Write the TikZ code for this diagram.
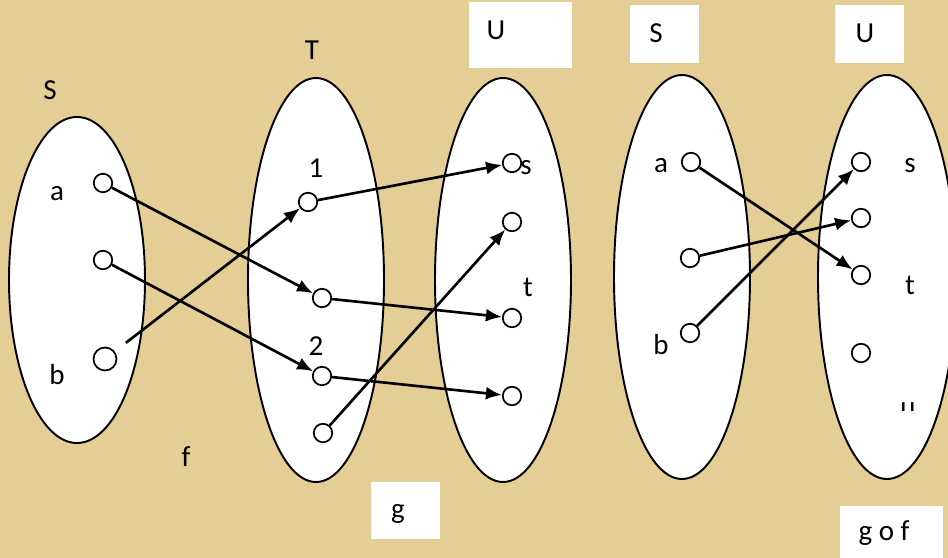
\documentclass[tikz,border=0pt]{standalone}
\usepackage{fontspec}
\setmainfont{Carlito}
\usetikzlibrary{arrows.meta}
\definecolor{parch}{RGB}{229,205,150}
\tikzset{
  setell/.style={draw=black,fill=white,line width=1.1pt},
  pt/.style={circle,draw=black,fill=white,line width=1pt,minimum size=0.37cm,inner sep=0pt},
  lab/.style={font=\fontsize{16.5}{19}\selectfont,inner sep=0pt},
  wbox/.style={fill=white,draw=none},
  arr/.style={line width=1.5pt,-{Latex[length=0.32cm,width=0.26cm]}}
}
\begin{document}
\begin{tikzpicture}[x=0.02cm,y=-0.02cm]
\useasboundingbox (0,0) rectangle (948,558);
\fill[parch] (0,0) rectangle (948,558);
% white label boxes
\fill[wbox] (469,2) rectangle (572,68);
\fill[wbox] (630,5) rectangle (699,63);
\fill[wbox] (835,5) rectangle (904,63);
\fill[wbox] (371,482) rectangle (440,539);
\fill[wbox] (840,506) rectangle (943,558);
% sets
\draw[setell] (77,280) ellipse [x radius=68, y radius=163];
\draw[setell] (316,280) ellipse [x radius=68, y radius=202];
\draw[setell] (503,280) ellipse [x radius=68, y radius=202];
\draw[setell] (682,277) ellipse [x radius=68, y radius=202];
\draw[setell] (887,277) ellipse [x radius=69, y radius=202];
% labels
\node[lab] (lS) at (50,90) {S};
\node[lab] (lT) at (312,50) {T};
\node[lab] (lU) at (496,30) {U};
\node[lab] (lf) at (186,457) {f};
\node[lab] (lg) at (398,514) {g};
\node[lab] (lS2) at (656,33) {S};
\node[lab] (lU2) at (865,33) {U};
\node[lab] (lgof) at (884,533) {g o f};
% S left
\node[pt] (sa) at (103,183) {};
\node[pt] (sm) at (103,260) {};
\node[pt,minimum size=0.46cm] (sb) at (105,359) {};
\node[lab] (la) at (57,194) {a};
\node[lab] (lb) at (57,375) {b};
% T
\node[pt] (t1) at (308,202) {};
\node[pt] (t2) at (322,298) {};
\node[pt] (t3) at (322,376) {};
\node[pt] (t4) at (323,433) {};
\node[lab] (l1) at (316,168) {1};
\node[lab] (l2) at (316,346) {2};
% U middle
\node[pt] (u1) at (512,163) {};
\node[pt] (u2) at (512,222) {};
\node[pt] (u3) at (512,318) {};
\node[pt] (u4) at (512,396) {};
\node[lab] (ls) at (526,168) {s};
\node[lab] (lt) at (528,287) {t};
% S right
\node[pt] (ra) at (691,162) {};
\node[pt] (rm) at (690,258) {};
\node[pt] (rb) at (690,333) {};
\node[lab] (lra) at (661,166) {a};
\node[lab] (lrb) at (661,345) {b};
% U right
\node[pt] (v1) at (861,162) {};
\node[pt] (v2) at (861,218) {};
\node[pt] (v3) at (861,275) {};
\node[pt] (v4) at (861,353) {};
\node[lab] (lvs) at (910,166) {s};
\node[lab] (lvt) at (910,285) {t};
\begin{scope}
\clip (890,392) rectangle (930,410);
\node[lab] (lvu) at (908,410) {u};
\end{scope}
% f
\draw[arr] (sa) -- (t2);
\draw[arr] (sm) -- (t3);
\draw[arr,shorten <=8pt] (sb) -- (t1);
% g
\draw[arr] (t1) -- (u1);
\draw[arr] (t2) -- (u3);
\draw[arr] (t3) -- (u4);
\draw[arr] (t4) -- (u2);
% g o f
\draw[arr] (ra) -- (v3);
\draw[arr] (rm) -- (v2);
\draw[arr] (rb) -- (v1);
\end{tikzpicture}
\end{document}
